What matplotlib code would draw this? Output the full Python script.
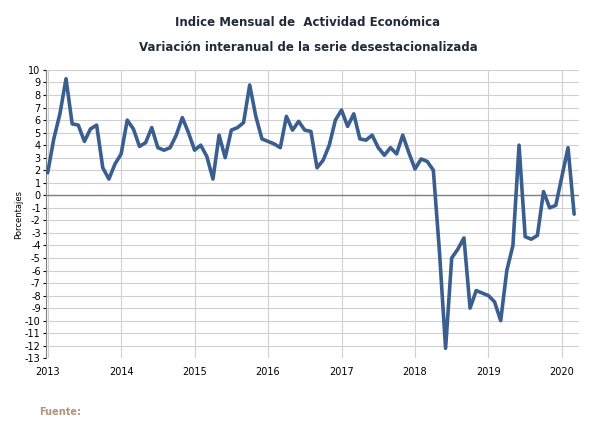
import matplotlib
matplotlib.use("Agg")
import matplotlib.pyplot as plt
import numpy as np

start_year = 2013
values = [
    1.8, 4.5, 6.5, 9.3, 5.7, 5.6, 4.3, 5.3, 5.6, 2.2, 1.3, 2.5,
    3.3, 6.0, 5.3, 3.9, 4.2, 5.4, 3.8, 3.6, 3.8, 4.8, 6.2, 5.0,
    3.6, 4.0, 3.1, 1.3, 4.8, 3.0, 5.2, 5.4, 5.8, 8.8, 6.3, 4.5,
    4.3, 4.1, 3.8, 6.3, 5.2, 5.9, 5.2, 5.1, 2.2, 2.8, 4.0, 6.0,
    6.8, 5.5, 6.5, 4.5, 4.4, 4.8, 3.8, 3.2, 3.8, 3.3, 4.8, 3.4,
    2.1, 2.9, 2.7, 2.0, -4.5, -12.2, -5.0, -4.3, -3.4, -9.0, -7.6, -7.8,
    -8.0, -8.5, -10.0, -6.0, -4.0, 4.0, -3.3, -3.5, -3.2, 0.3, -1.0, -0.8,
    1.5, 3.8, -1.5,
]
year_ticks = list(range(2013, 2021))
y_ticks = list(range(-13, 11))

x = start_year + np.arange(len(values)) / 12.0

fig = plt.figure(figsize=(6.16, 4.24), dpi=100)
ax = fig.add_axes([0.075, 0.155, 0.865, 0.68])
ax.plot(x, values, color="#3A5F8F", lw=2.6, solid_joinstyle="round", solid_capstyle="round", zorder=3)
ax.set_xlim(2013 - 0.02, 2020 + 2.8/12)
ax.set_ylim(-13, 10)
ax.set_xticks(year_ticks)
ax.set_xticklabels([str(y) for y in year_ticks], fontsize=7)
ax.set_yticks(y_ticks)
ax.set_yticklabels([str(v) for v in y_ticks], fontsize=7)
ax.grid(True, color="#D0D0D0", lw=0.8)
ax.axhline(0, color="#808080", lw=1, zorder=2)
for s in ["top", "right"]:
    ax.spines[s].set_visible(False)
ax.spines["left"].set_color("#808080")
ax.spines["bottom"].set_visible(False)
ax.tick_params(length=2, colors="black", pad=2)
ax.tick_params(axis="x", length=0, pad=6)
ax.set_ylabel("Porcentajes", fontsize=6, labelpad=1)

fig.text(0.5, 0.948, "Indice Mensual de  Actividad Económica", ha="center", va="center",
         fontsize=8.5, fontweight="bold", color="#1F2A3A")
fig.text(0.5, 0.888, "Variación interanual de la serie desestacionalizada", ha="center", va="center",
         fontsize=8.5, fontweight="bold", color="#1F2A3A")
fig.text(0.063, 0.022, "Fuente:", fontsize=7, color="#B0957A", fontweight="bold")
fig.savefig("out.png", dpi=100)
